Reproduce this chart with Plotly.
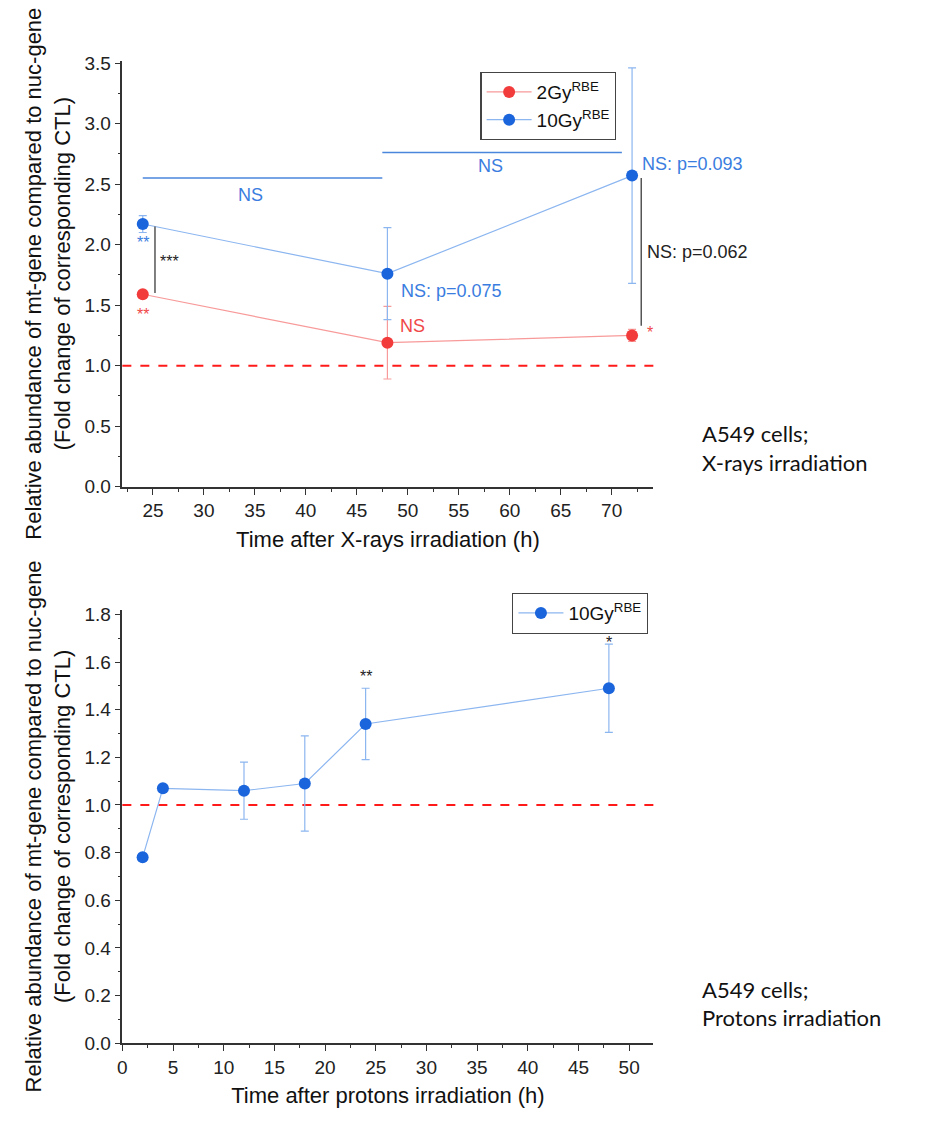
import plotly.graph_objects as go

# ---------------- data ----------------
xr_time = [24, 48, 72]
xr_2gy = [1.59, 1.19, 1.25]
xr_2gy_err = [0.03, 0.30, 0.05]
xr_10gy = [2.17, 1.76, 2.57]
xr_10gy_err = [0.07, 0.38, 0.89]

pr_time = [2, 4, 12, 18, 24, 48]
pr_10gy = [0.78, 1.07, 1.06, 1.09, 1.34, 1.49]
pr_10gy_err = [0.0, 0.0, 0.12, 0.20, 0.15, 0.185]

top_xticks = [25, 30, 35, 40, 45, 50, 55, 60, 65, 70]
top_yticks = [0.0, 0.5, 1.0, 1.5, 2.0, 2.5, 3.0, 3.5]
bot_xticks = [0, 5, 10, 15, 20, 25, 30, 35, 40, 45, 50]
bot_yticks = [0.0, 0.2, 0.4, 0.6, 0.8, 1.0, 1.2, 1.4, 1.6, 1.8]

# significance brackets (x0, x1, y)
top_hbars = [(24, 47.5, 2.55), (47.5, 71, 2.76)]
top_vbars = [(25.2, 1.60, 2.15), (72.9, 1.33, 2.55)]

RED = "#f23c3c"
RED_L = "#f89a9a"
BLUE = "#1a64dc"
BLUE_L = "#8cb6f0"
AX = "#333333"
FONT = "Liberation Sans, Arial, sans-serif"

fig = go.Figure()

fig.add_trace(go.Scatter(
    x=xr_time, y=xr_2gy, name="2Gy<sup>RBE</sup>", mode="lines+markers",
    line=dict(color=RED_L, width=1.2), marker=dict(color=RED, size=12),
    error_y=dict(type="data", array=xr_2gy_err, color=RED_L, thickness=1.2, width=4),
    xaxis="x", yaxis="y", legend="legend"))
fig.add_trace(go.Scatter(
    x=xr_time, y=xr_10gy, name="10Gy<sup>RBE</sup>", mode="lines+markers",
    line=dict(color=BLUE_L, width=1.2), marker=dict(color=BLUE, size=12),
    error_y=dict(type="data", array=xr_10gy_err, color=BLUE_L, thickness=1.2, width=4),
    xaxis="x", yaxis="y", legend="legend"))
fig.add_trace(go.Scatter(
    x=pr_time, y=pr_10gy, name="10Gy<sup>RBE</sup>", mode="lines+markers",
    line=dict(color=BLUE_L, width=1.2), marker=dict(color=BLUE, size=12),
    error_y=dict(type="data", array=pr_10gy_err, color=BLUE_L, thickness=1.2, width=4),
    xaxis="x2", yaxis="y2", legend="legend2"))

shapes = []
for xa, ya in (("x", "y"), ("x2", "y2")):
    shapes.append(dict(type="line", xref=xa + " domain", yref=ya, x0=0, x1=1, y0=1, y1=1,
                       line=dict(color="#ff1a1a", width=2, dash="dash"), layer="below"))
for x0, x1, y in top_hbars:
    shapes.append(dict(type="line", xref="x", yref="y", x0=x0, x1=x1, y0=y, y1=y,
                       line=dict(color="#4a86dc", width=1.5)))
for x, y0, y1 in top_vbars:
    shapes.append(dict(type="line", xref="x", yref="y", x0=x, x1=x, y0=y0, y1=y1,
                       line=dict(color="#555555", width=1.5)))

ann = []
def txt(x, y, t, color, size=18, xa="x", ya="y", xanchor="left", yanchor="middle"):
    ann.append(dict(x=x, y=y, xref=xa, yref=ya, text=t, showarrow=False,
                    font=dict(color=color, size=size, family=FONT),
                    xanchor=xanchor, yanchor=yanchor))

BLT = "#3a7de0"
REDT = "#f04848"
txt(34.6, 2.41, "NS", BLT, xanchor="center")
txt(58.1, 2.65, "NS", BLT, xanchor="center")
txt(72.8, 2.67, "NS: p=0.093", BLT)
txt(73.3, 1.94, "NS: p=0.062", "#222222")
txt(25.5, 1.86, "***", "#222222", size=16)
txt(24.05, 2.02, "**", BLT, size=16, xanchor="center")
txt(24.05, 1.42, "**", REDT, size=16, xanchor="center")
txt(49.1, 1.62, "NS: p=0.075", BLT)
txt(49.0, 1.33, "NS", REDT)
txt(73.3, 1.27, "*", REDT, size=16)
txt(24, 1.54, "**", "#222222", size=16, xa="x2", ya="y2", xanchor="center")
txt(48, 1.68, "*", "#222222", size=16, xa="x2", ya="y2", xanchor="center")

SIDE = "Lato, Open Sans, sans-serif"
for t, py in (("A549 cells;", 433), ("X-rays irradiation", 462),
              ("A549 cells;", 998), ("Protons irradiation", 1027)):
    ann.append(dict(x=699 / 925, y=1 - py / 1122, xref="paper", yref="paper",
                    text=t, showarrow=False, xanchor="left", yanchor="middle",
                    font=dict(size=22, color="#111111", family=SIDE)))

ytitle = "Relative abundance of mt-gene compared to nuc-gene<br>(Fold change of corresponding CTL)"

def axis_common():
    return dict(showline=True, linecolor=AX, linewidth=1.5, ticks="outside",
                ticklen=6, tickwidth=1.2, tickcolor=AX, showgrid=False, zeroline=False,
                tickfont=dict(size=19, color="#222222", family=FONT), mirror=False)

TITLEF = dict(size=22, color="#111111", family=FONT)
xd = [118 / 925, 652 / 925]
LEGF = dict(size=19, color="#111111", family=FONT)
fig.update_layout(
    width=925, height=1122, margin=dict(l=0, r=0, t=0, b=0),
    paper_bgcolor="white", plot_bgcolor="white",
    font=dict(family=FONT),
    shapes=shapes, annotations=ann,
    xaxis=dict(**axis_common(), domain=xd, anchor="y", range=[22, 74.1],
               tickvals=top_xticks,
               minor=dict(ticks="outside", ticklen=3, tickcolor=AX, dtick=2.5, tick0=22.5),
               title=dict(text="Time after X-rays irradiation (h)", font=TITLEF, standoff=11)),
    yaxis=dict(**axis_common(), domain=[1 - 487 / 1122, 1 - 53.5 / 1122], anchor="x",
               range=[0, 3.52], tickvals=top_yticks, tickformat=".1f",
               minor=dict(ticks="outside", ticklen=3, tickcolor=AX, dtick=0.25, tick0=0),
               title=dict(text=ytitle, font=TITLEF, standoff=8)),
    xaxis2=dict(**axis_common(), domain=xd, anchor="y2", range=[0, 52.4],
                tickvals=bot_xticks,
                minor=dict(ticks="outside", ticklen=3, tickcolor=AX, dtick=2.5, tick0=0),
                title=dict(text="Time after protons irradiation (h)", font=TITLEF, standoff=11)),
    yaxis2=dict(**axis_common(), domain=[1 - 1053 / 1122, 1 - 612 / 1122], anchor="x2",
                range=[0, 1.82], tickvals=bot_yticks, tickformat=".1f",
                minor=dict(ticks="outside", ticklen=3, tickcolor=AX, dtick=0.1, tick0=0),
                title=dict(text=ytitle, font=TITLEF, standoff=8)),
    legend=dict(x=478 / 925, y=1 - 65 / 1122, xanchor="left", yanchor="top",
                bgcolor="white", bordercolor="#444444", borderwidth=1.2,
                font=LEGF, itemwidth=45, tracegroupgap=0),
    legend2=dict(x=510 / 925, y=1 - 595 / 1122, xanchor="left", yanchor="top",
                 bgcolor="white", bordercolor="#444444", borderwidth=1.2,
                 font=LEGF, itemwidth=45),
    showlegend=True,
)

fig.write_html("out.html")
